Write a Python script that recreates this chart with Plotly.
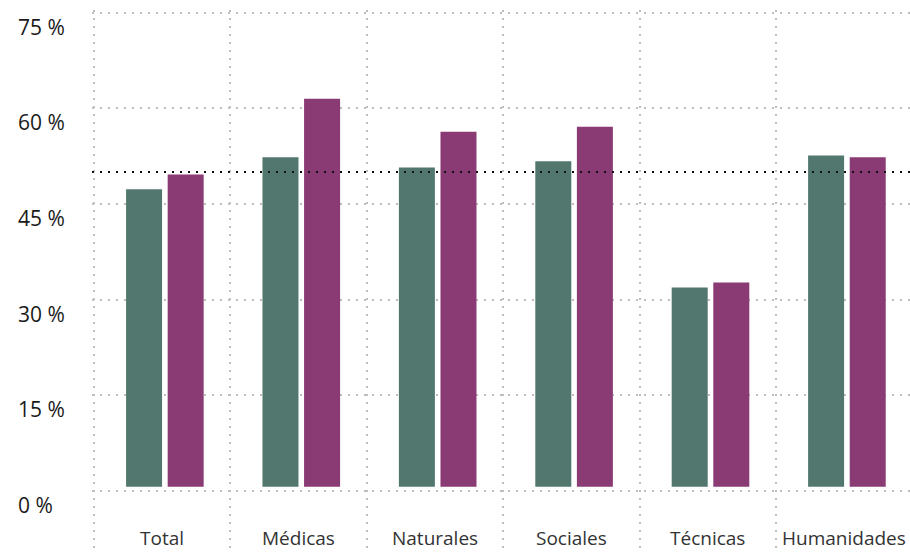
import plotly.graph_objects as go

categories = ["Total", "Médicas", "Naturales", "Sociales", "Técnicas", "Humanidades"]
series_a = [47.3, 52.3, 50.7, 51.7, 31.9, 52.6]   # green
series_b = [49.6, 61.5, 56.3, 57.1, 32.7, 52.3]   # purple
reference_value = 50.0
y_ticks = [0, 15, 30, 45, 60, 75]
y_tick_labels = ["0 %", "15 %", "30 %", "45 %", "60 %", "75 %"]
bar_base = 0.65

GREEN = "#52776e"
PURPLE = "#8a3b74"
GRID = "#c2bcbc"
FONT = "Open Sans"

fig = go.Figure()
fig.add_trace(go.Bar(
    x=categories, y=[v - bar_base for v in series_a], base=bar_base,
    marker=dict(color=GREEN, line=dict(width=0)),
    offset=-0.265, width=0.264, hoverinfo="skip", showlegend=False))
fig.add_trace(go.Bar(
    x=categories, y=[v - bar_base for v in series_b], base=bar_base,
    marker=dict(color=PURPLE, line=dict(width=0)),
    offset=0.040, width=0.264, hoverinfo="skip", showlegend=False))

fig.add_shape(type="line", xref="paper", yref="y", x0=0, x1=1,
              y0=reference_value, y1=reference_value,
              line=dict(color="#111111", width=2, dash="2px,6px"), layer="above")

annotations = []
for v, t in zip(y_ticks, y_tick_labels):
    annotations.append(dict(x=-0.0925, xref="paper", y=v, yref="y", text=t,
                            showarrow=False, xanchor="left", yanchor="middle",
                            yshift=-14, font=dict(family=FONT, size=21, color="#1a1a1a")))
for c in categories:
    annotations.append(dict(x=c, xref="x", y=-7.4, yref="y", text=c,
                            showarrow=False, xanchor="center", yanchor="middle",
                            font=dict(family=FONT, size=19, color="#333333")))

fig.update_layout(
    width=910, height=552,
    margin=dict(l=92, r=0, t=10, b=0),
    paper_bgcolor="white", plot_bgcolor="white",
    barmode="overlay",
    annotations=annotations,
    xaxis=dict(type="category", range=[-0.5147, 5.482], tickson="boundaries",
               showgrid=True, gridcolor=GRID, gridwidth=2, griddash="2px,6px",
               showticklabels=False, ticks="", showline=False, zeroline=False,
               fixedrange=True),
    yaxis=dict(range=[-9.56, 75.4], tickvals=y_ticks,
               showgrid=True, gridcolor=GRID, gridwidth=2, griddash="2px,6px",
               showticklabels=False, ticks="", showline=False, zeroline=False,
               fixedrange=True),
)

fig.write_html("out.html", config={"displayModeBar": False},
               post_script="document.body.style.margin='0';document.body.style.overflow='hidden';")
